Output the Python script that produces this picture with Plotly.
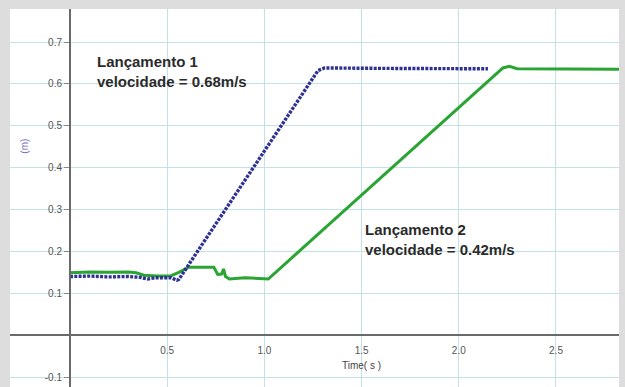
import plotly.graph_objects as go

# Lançamento 1 (blue)
t1 = [0.00, 0.10, 0.20, 0.30, 0.36, 0.40, 0.44, 0.48, 0.52, 0.55, 0.56, 1.276, 1.31, 1.60, 1.90, 2.15]
d1 = [0.140, 0.141, 0.139, 0.140, 0.138, 0.134, 0.137, 0.136, 0.137, 0.131, 0.133, 0.632, 0.638, 0.637, 0.637, 0.636]

# Lançamento 2 (green)
t2 = [0.00, 0.10, 0.20, 0.30, 0.34, 0.38, 0.45, 0.52, 0.56, 0.61, 0.74, 0.76, 0.78, 0.79, 0.80, 0.82, 0.90,
      0.96, 1.02, 2.227, 2.26, 2.30, 2.50, 2.70, 2.83]
d2 = [0.149, 0.151, 0.150, 0.151, 0.149, 0.143, 0.141, 0.142, 0.150, 0.162, 0.162, 0.145, 0.146, 0.158, 0.140,
      0.134, 0.137, 0.135, 0.134, 0.638, 0.642, 0.636, 0.636, 0.635, 0.635]

xticks = [0.5, 1.0, 1.5, 2.0, 2.5]
xticklabels = ["0.5", "1.0", "1.5", "2.0", "2.5"]
yticks = [-0.1, 0.1, 0.2, 0.3, 0.4, 0.5, 0.6, 0.7]
yticklabels = ["-0.1", "0.1", "0.2", "0.3", "0.4", "0.5", "0.6", "0.7"]

labels = [
    dict(x=0.129, y=0.630, text="Lançamento 1<br>velocidade = 0.68m/s"),
    dict(x=1.507, y=0.229, text="Lançamento 2<br>velocidade = 0.42m/s"),
]

XMIN = -0.3086
YMAX = 0.7788
PX_X = 194.4   # px per second
PX_Y = 418.75  # px per metre
L, T, R, B = 10, 9, 6, 0
W, H = 625, 387
XMAX = XMIN + (W - L - R) / PX_X
YMIN = YMAX - (H - T - B) / PX_Y

fig = go.Figure()
fig.add_trace(go.Scatter(x=t2, y=d2, mode="lines",
                         line=dict(color="#2aa432", width=3), showlegend=False))
fig.add_trace(go.Scatter(x=t1, y=d1, mode="lines",
                         line=dict(color="#2e3192", width=3.4, dash="3px,1.3px"), showlegend=False))

font = "Liberation Sans, Arial, sans-serif"
for a in labels:
    fig.add_annotation(x=a["x"], y=a["y"], text="<b>" + a["text"] + "</b>", showarrow=False,
                       xanchor="left", yanchor="middle", align="left",
                       font=dict(family=font, size=15, color="#2b2b2b"))

fig.add_annotation(x=1.5, y=-0.072, text="Time( s )", showarrow=False,
                   font=dict(family=font, size=10, color="#444"))
fig.add_annotation(xref="paper", yref="y", x=(25 - L) / (W - L - R), y=0.45, text="(m)", showarrow=False,
                   xanchor="center", yanchor="middle",
                   textangle=-90, font=dict(family=font, size=10, color="#7a6fc0"))

xpos = (0 - XMIN) / (XMAX - XMIN)
ypos = (0 - YMIN) / (YMAX - YMIN)

fig.update_layout(
    width=W, height=H,
    margin=dict(l=L, r=R, t=T, b=B),
    paper_bgcolor="#dddddd", plot_bgcolor="#ffffff",
    font=dict(family=font),
    xaxis=dict(range=[XMIN, XMAX], anchor="free", position=ypos,
               tickvals=xticks, ticktext=xticklabels,
               showgrid=True, gridcolor="#c2e3e3", gridwidth=1,
               showline=True, linecolor="#6a6a6a", linewidth=2,
               zeroline=False, ticks="", ticklabelstandoff=6,
               tickfont=dict(size=10, color="#555")),
    yaxis=dict(range=[YMIN, YMAX], anchor="free", position=xpos,
               tickvals=yticks, ticktext=yticklabels,
               showgrid=True, gridcolor="#c2e3e3", gridwidth=1,
               showline=True, linecolor="#6a6a6a", linewidth=2,
               zeroline=False, ticks="outside", ticklen=5, tickcolor="#888",
               tickfont=dict(size=10, color="#555")),
)

fig.write_html("out.html", config={"displayModeBar": False},
               post_script="document.body.style.margin='0';document.body.style.background='#dddddd';"
                           "document.body.style.overflow='hidden';")
